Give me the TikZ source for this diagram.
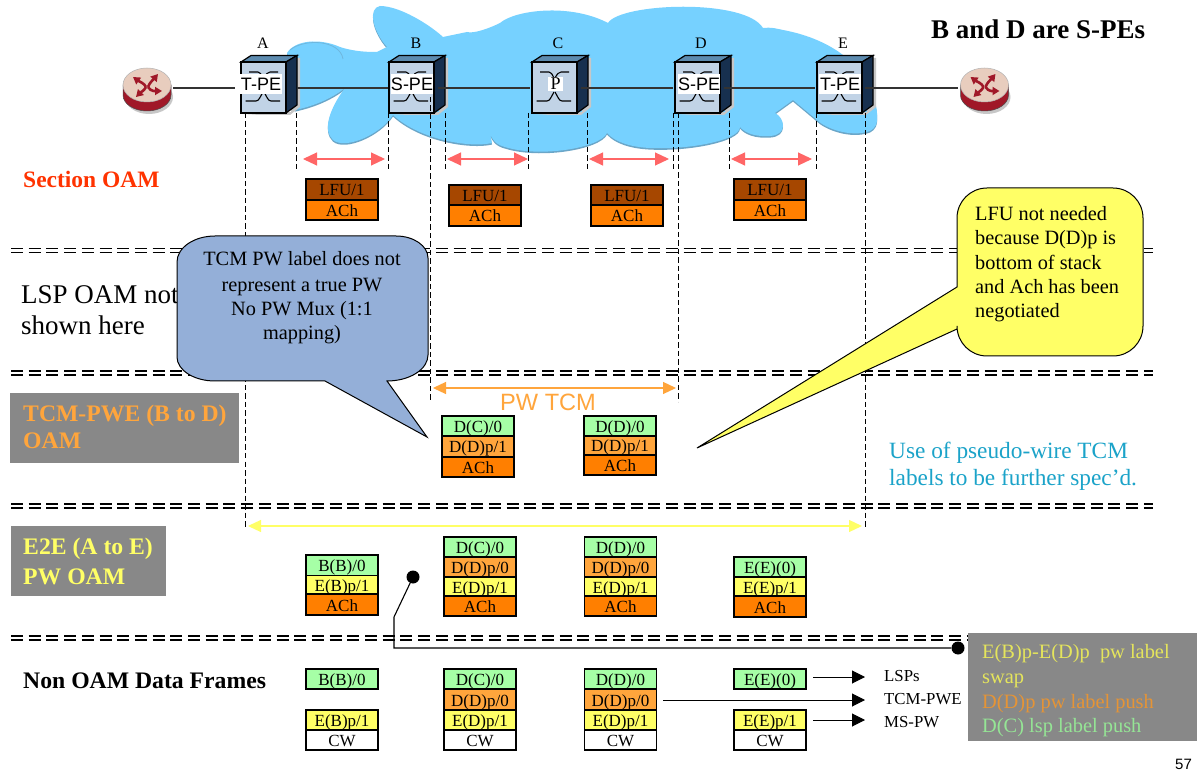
\documentclass[tikz,border=0pt]{standalone}
\usepackage{fontspec}
\setmainfont{Liberation Serif}
\setsansfont{Liberation Sans}
\usetikzlibrary{arrows.meta,calc}
\definecolor{cloudc}{HTML}{76D1FF}
\definecolor{cloudsh}{HTML}{6BA6C8}
\definecolor{gr}{HTML}{A6FFA6}
\definecolor{or}{HTML}{FFA53C}
\definecolor{ye}{HTML}{FFFF66}
\definecolor{ach}{HTML}{FF7F00}
\definecolor{lfu}{HTML}{A64700}
\definecolor{grayb}{HTML}{888888}
\definecolor{blu}{HTML}{94AFD8}
\definecolor{teal2}{HTML}{1BA3C9}
\definecolor{redt}{HTML}{FF3300}
\definecolor{redar}{HTML}{FF6666}
\definecolor{swfront}{HTML}{C1D3E6}
\definecolor{swtop}{HTML}{5D8BAF}
\definecolor{swside}{HTML}{17304F}
\definecolor{rtop}{HTML}{E8CDBE}
\definecolor{rbase}{HTML}{A01828}
\newcommand{\fs}[1]{\fontsize{#1}{#1}\selectfont}
\tikzset{
 stackcell/.style={draw=black,line width=1.1,minimum width=72,inner sep=0,outer sep=0,text height=14,text depth=1,font=\fs{17},text=black},
 guide/.style={draw=black,line width=0.9,dash pattern=on 5.5 off 3},
 sep/.style={draw=black,line width=1.3,dash pattern=on 12 off 5.7},
 blackarrow/.style={draw=black,line width=1,-{Triangle[length=13,width=13]}},
 wire/.style={draw=black!80,line width=1.1},
 label/.style={inner sep=0,anchor=base west},
 pin/.style={draw=black,line width=1.1},
}
% name, x0, ytop, ybottom, fill, text
\newcommand{\cellbox}[6]{\node[stackcell,fill=#5,minimum height={(#4-#3)*1pt}] (#1) at (#2+36,{(#3+#4)/2}) {#6};}
% name, x0, label, font
\newcommand{\switchunit}[4]{%
 \fill[black!22] (#2+3,115) -- (#2+49,115) -- (#2+59,107) -- (#2+59,58) -- (#2+50,58) -- (#2+50,112) -- cycle;
 \filldraw[draw=black,line width=1.2,fill=swtop] (#2,62) -- (#2+10,55.5) -- (#2+56,55.5) -- (#2+45,62) -- cycle;
 \filldraw[draw=black,line width=1.2,fill=swside] (#2+45,62) -- (#2+56,55.5) -- (#2+56,105) -- (#2+45,113) -- cycle;
 \node[draw=black,line width=1.3,fill=swfront,minimum width=45,minimum height=51,inner sep=0,outer sep=0,anchor=north west] (#1) at (#2,62) {};
 \draw[black,line width=1.1] (#2+4.5,101) -- (#2+15,101) .. controls (#2+18,101) and (#2+19,97) .. (#2+22,92);
 \draw[black,line width=1.1] (#2+39,101) -- (#2+30,101) .. controls (#2+27,101) and (#2+26,97) .. (#2+23,92);
 \draw[black,line width=1.1] (#2+8,72) -- (#2+17,72) .. controls (#2+19,72) and (#2+20,74) .. (#2+22,78);
 \draw[black,line width=1.1] (#2+37,72) -- (#2+29,72) .. controls (#2+27,72) and (#2+25,74) .. (#2+23,78);
 #4
}
\newcommand{\routerunit}[2]{%
 \fill[black!22] (#2+2,97) ellipse [x radius=24,y radius=17];
 \filldraw[draw=black!70,line width=.5,fill=rbase] (#2-24,85) -- (#2-24,95) arc[start angle=180,end angle=0,x radius=24,y radius=16] -- (#2+24,85) -- cycle;
 \filldraw[draw=black!30,line width=.5,fill=rtop] (#2,85) ellipse [x radius=24,y radius=17];
 \node[minimum width=48,minimum height=44,inner sep=0,outer sep=0] (#1) at (#2,90) {};
 \begin{scope}[rbase,line width=2.6,-{Triangle[length=7,width=8]}]
  \draw (#2-1,87) .. controls (#2-3,83) and (#2-7,82) .. (#2-14,77);
  \draw (#2+1,87) .. controls (#2+3,82) and (#2+6,80) .. (#2+11,74);
  \draw (#2-1,87) .. controls (#2-3,91) and (#2-6,92) .. (#2-11,97);
  \draw (#2+1,87) .. controls (#2+4,92) and (#2+9,91) .. (#2+15,91);
 \end{scope}
}
\begin{document}
\begin{tikzpicture}[x=1pt,y=-1pt]
\useasboundingbox (0,0) rectangle (1197,775);
\fill[white] (0,0) rectangle (1197,775);
% cloud
\path[fill=cloudc,preaction={fill=cloudsh,transform canvas={yshift=-1.6pt}}]
 (287,53) .. controls (295,40) and (320,38) .. (340,47) .. controls (355,52) and (370,52) .. (377,52)
 -- (387,47) .. controls (372,30) and (368,8) .. (380,6) .. controls (400,6) and (430,25) .. (443,37)
 -- (467,32) .. controls (474,34) and (490,28) .. (500,23) .. controls (515,10) and (570,3) .. (608,23)
 .. controls (620,3) and (745,-2) .. (763,28) .. controls (772,27) and (778,29) .. (783,30)
 .. controls (810,35) and (830,45) .. (843,55) .. controls (860,65) and (875,90) .. (877,113)
 .. controls (878,125) and (875,128) .. (870,131) .. controls (850,138) and (825,128) .. (817,120)
 -- (793,100) -- (775,113) .. controls (785,118) and (788,135) .. (770,136) .. controls (755,137) and (745,133) .. (740,127)
 .. controls (740,140) and (690,150) .. (650,148) .. controls (630,147) and (615,142) .. (607,133)
 .. controls (600,148) and (540,158) .. (505,147) .. controls (497,145) and (491,140) .. (490,132)
 .. controls (491,137) and (491,140) .. (492,143) .. controls (470,148) and (420,140) .. (393,115)
 .. controls (380,135) and (345,150) .. (333,140) .. controls (322,130) and (330,108) .. (345,88)
 .. controls (330,100) and (310,107) .. (295,110) -- (290,60) -- cycle;
\draw[cloudsh!60!cloudc,line width=.8] (290,50) .. controls (305,38) and (340,40) .. (343,59);
% routers and switches
\routerunit{r1}{147}
\routerunit{r2}{984.5}
\node[font=\fs{16},inner sep=0] (tA) at (263,43) {A};
\node[font=\fs{16},inner sep=0] (tB) at (416,43) {B};
\node[font=\fs{16},inner sep=0] (tC) at (558,43) {C};
\node[font=\fs{16},inner sep=0] (tD) at (701,43) {D};
\node[font=\fs{16},inner sep=0] (tE) at (843,43) {E};
\switchunit{A}{241}{T-PE}{\node[fill=white,inner sep=0,minimum width=42,minimum height=20,font=\sffamily\fs{18}] (lA) at (261,84) {T-PE};}
\switchunit{B}{389}{S-PE}{\node[fill=white,inner sep=0,minimum width=42,minimum height=20,font=\sffamily\fs{18}] (lB) at (412,84) {S-PE};}
\switchunit{C}{532}{P}{\node[fill=white,inner sep=0,minimum width=15,minimum height=14,font=\fs{18}] (lC) at (555.5,84) {P};}
\switchunit{D}{675}{S-PE}{\node[fill=white,inner sep=0,minimum width=42,minimum height=20,font=\sffamily\fs{18}] (lD) at (699,84) {S-PE};}
\switchunit{E}{817}{T-PE}{\node[fill=white,inner sep=0,minimum width=42,minimum height=20,font=\sffamily\fs{18}] (lE) at (840,84) {T-PE};}
% connectors between devices
\coordinate (r1o) at (173,88); \coordinate (Ain) at (235,88);
\coordinate (Ao) at (297,88); \coordinate (Bi) at (388,88);
\coordinate (Bo) at (438,88); \coordinate (Ci) at (530,88);
\coordinate (Co) at (581,88); \coordinate (Di) at (673,88);
\coordinate (Do) at (724,88); \coordinate (Ei) at (815,88);
\coordinate (Eo) at (865,88); \coordinate (r2i) at (958,88);
\draw[wire] (r1o) -- (Ain);
\draw[wire] (Ao) -- (Bi);
\draw[wire] (Bo) -- (Ci);
\draw[wire] (Co) -- (Di);
\draw[wire] (Do) -- (Ei);
\draw[wire] (Eo) -- (r2i);
% vertical guides
\foreach \x/\a/\b in {245/113/527,296/113/170,388/113/170,430/97/402,445/113/170,528/113/170,587/113/170,673/113/170,678/113/402,729/113/170,816/113/170,865/113/527}{
 \coordinate (v\x a) at (\x,\a); \coordinate (v\x b) at (\x,\b);
 \draw[guide] (v\x a) -- (v\x b);
}
% separators
\foreach \n/\y in {a/248.5,b/252.7,c/371,d/375,e/504,f/508,g/636,h/640}{
 \coordinate (s\n l) at (11,\y); \coordinate (s\n r) at (1153,\y);
 \draw[sep] (s\n l) -- (s\n r);
}
% section OAM
\node[label,font=\bfseries\fs{23.5},text=redt] (t1) at (23,188) {Section OAM};
\foreach \n/\a/\b in {p/303/385,q/447/528,r/589/669,s/731/812}{
 \coordinate (\n l) at (\a,159); \coordinate (\n r) at (\b,159);
 \draw[redar,line width=1.1,{Triangle[length=14,width=13]}-{Triangle[length=14,width=13]}] (\n l) -- (\n r);
}
\cellbox{s1a}{306}{179}{200}{lfu}{LFU/1}\cellbox{s1b}{306}{200}{220}{ach}{ACh}
\cellbox{s2a}{449}{185}{205}{lfu}{LFU/1}\cellbox{s2b}{449}{205}{226}{ach}{ACh}
\cellbox{s3a}{591}{185}{205}{lfu}{LFU/1}\cellbox{s3b}{591}{205}{226}{ach}{ACh}
\cellbox{s4a}{734}{179}{200}{lfu}{LFU/1}\cellbox{s4b}{734}{200}{220}{ach}{ACh}
% LSP
\node[label,font=\fs{27},align=left] (t2) at (21,304) {LSP OAM not};
\node[label,font=\fs{27},align=left] (t2b) at (21,335) {shown here};
% TCM
\node[fill=grayb,minimum width=229,minimum height=70,inner sep=0,anchor=north west] (g1) at (10,393) {};
\node[label,font=\bfseries\fs{23.7},text=or] (t3) at (23,422) {TCM-PWE (B to D)};
\node[label,font=\bfseries\fs{23.7},text=or] (t3b) at (23,449) {OAM};
\coordinate (tcml) at (433,388); \coordinate (tcmr) at (676,388);
\draw[or,line width=1.2,{Triangle[length=13,width=12]}-{Triangle[length=13,width=12]}] (tcml) -- (tcmr);
\node[label,font=\sffamily\fs{23.6},text=or] (t4) at (500,410) {PW TCM};
\cellbox{t1a}{442}{416}{436}{gr}{D(C)/0}\cellbox{t1b}{442}{436}{457}{or}{D(D)p/1}\cellbox{t1c}{442}{457}{477}{ach}{ACh}
\cellbox{t2a}{584}{416}{436}{gr}{D(D)/0}\cellbox{t2b}{584}{436}{455}{or}{D(D)p/1}\cellbox{t2c}{584}{455}{475}{ach}{ACh}
\node[label,font=\fs{23.3},text=teal2] (t5) at (889,458) {Use of pseudo-wire TCM};
\node[label,font=\fs{23.3},text=teal2] (t5b) at (889,485) {labels to be further spec’d.};
% E2E
\node[fill=grayb,minimum width=155,minimum height=70,inner sep=0,anchor=north west] (g2) at (11,526) {};
\node[label,font=\bfseries\fs{23.7},text=ye] (t6) at (23,554) {E2E (A to E)};
\node[label,font=\bfseries\fs{23.7},text=ye] (t6b) at (23,584) {PW OAM};
\coordinate (e2el) at (248,526); \coordinate (e2er) at (862,526);
\draw[ye,line width=1.2,{Triangle[length=13,width=12]}-{Triangle[length=13,width=12]}] (e2el) -- (e2er);
\cellbox{e1a}{306}{555}{575.5}{gr}{B(B)/0}\cellbox{e1b}{306}{575.5}{594}{ye}{E(B)p/1}\cellbox{e1c}{306}{594}{615}{ach}{ACh}
\cellbox{e2a}{444}{537}{557}{gr}{D(C)/0}\cellbox{e2b}{444}{557}{577}{or}{D(D)p/0}\cellbox{e2c}{444}{577}{596}{ye}{E(D)p/1}\cellbox{e2d}{444}{596}{616}{ach}{ACh}
\cellbox{e3a}{584.5}{537}{557}{gr}{D(D)/0}\cellbox{e3b}{584.5}{557}{577}{or}{D(D)p/0}\cellbox{e3c}{584.5}{577}{596}{ye}{E(D)p/1}\cellbox{e3d}{584.5}{596}{616}{ach}{ACh}
\cellbox{e4a}{734}{557}{577}{gr}{E(E)(0)}\cellbox{e4b}{734}{577}{596}{ye}{E(E)p/1}\cellbox{e4c}{734}{596}{617}{ach}{ACh}
% Data
\node[label,font=\bfseries\fs{23.7},] (t7) at (23,688) {Non OAM Data Frames};
\cellbox{d1a}{306}{669}{689}{gr}{B(B)/0}\cellbox{d1b}{306}{710}{730}{ye}{E(B)p/1}\cellbox{d1c}{306}{730}{750}{white}{CW}
\cellbox{d2a}{444}{669}{689}{gr}{D(C)/0}\cellbox{d2b}{444}{689}{710}{or}{D(D)p/0}\cellbox{d2c}{444}{710}{730}{ye}{E(D)p/1}\cellbox{d2d}{444}{730}{750}{white}{CW}
\cellbox{d3a}{584.5}{669}{689}{gr}{D(D)/0}\cellbox{d3b}{584.5}{689}{710}{or}{D(D)p/0}\cellbox{d3c}{584.5}{710}{730}{ye}{E(D)p/1}\cellbox{d3d}{584.5}{730}{750}{white}{CW}
\cellbox{d4a}{734}{669}{689}{gr}{E(E)(0)}\cellbox{d4b}{734}{710}{730}{ye}{E(E)p/1}\cellbox{d4c}{734}{730}{750}{white}{CW}
\node[label,font=\fs{16.8}] (l1) at (884,681) {LSPs};
\node[label,font=\fs{16.8}] (l2) at (884,704) {TCM-PWE};
\node[label,font=\fs{16.8}] (l3) at (884,727) {MS-PW};
\coordinate (a1s) at (813,677); \coordinate (a2s) at (663,700); \coordinate (a3s) at (813,720);
\coordinate (a1e) at (865,677); \coordinate (a2e) at (865,700); \coordinate (a3e) at (865,720);
\draw[blackarrow] (a1s) -- (a1e);
\draw[blackarrow] (a2s) -- (a2e);
\draw[blackarrow] (a3s) -- (a3e);
% gray note
\node[fill=grayb,minimum width=229,minimum height=108,inner sep=0,anchor=north west] (g3) at (968,633) {};
\node[label,font=\fs{20.4},text=ye!90!black] (n1) at (982,658) {E(B)p-E(D)p\ \ pw label};
\node[label,font=\fs{20.4},text=ye!90!black] (n1b) at (982,683) {swap};
\node[label,font=\fs{20.4},text=or!90!black] (n2) at (982,708) {D(D)p pw label push};
\node[label,font=\fs{20.4},text=gr!90!black] (n3) at (982,732) {D(C) lsp label push};
% pointer line
\node[circle,fill=black,minimum size=13,inner sep=0] (dot1) at (413,577) {};
\node[circle,fill=black,minimum size=13,inner sep=0] (dot2) at (958,648) {};
\coordinate (pk1) at (394,617); \coordinate (pk2) at (394,648);
\draw[pin] (dot1) -- (pk1) -- (pk2) -- (dot2);
% callouts
\filldraw[draw=black,line width=1,fill=blu] (215,236) -- (396,236) arc[start angle=-90,end angle=0,x radius=32,y radius=22] -- (428,355) arc[start angle=0,end angle=90,x radius=41,y radius=26] -- (387,381) -- (427,437) -- (325,381) -- (215,381) arc[start angle=90,end angle=180,x radius=38,y radius=24] -- (177,262) arc[start angle=180,end angle=270,x radius=38,y radius=26] -- cycle;
\node[font=\fs{20.3},align=center,inner sep=0,anchor=base] (c1a) at (302,266) {TCM PW label does not};
\node[font=\fs{20.3},align=center,inner sep=0,anchor=base] (c1b) at (302,292) {represent a true PW};
\node[font=\fs{20.3},align=center,inner sep=0,anchor=base] (c1c) at (302,316) {No PW Mux (1:1};
\node[font=\fs{20.3},align=center,inner sep=0,anchor=base] (c1d) at (302,340) {mapping)};
\filldraw[draw=black,line width=1,fill=ye] (987,188) -- (1113,188) arc[start angle=-90,end angle=0,radius=30] -- (1143,326) arc[start angle=0,end angle=90,radius=30] -- (987,356) arc[start angle=90,end angle=180,radius=30] -- (957,329) -- (697,448) -- (957,287) -- (957,218) arc[start angle=180,end angle=270,radius=30] -- cycle;
\node[label,font=\fs{20.3}] (c2a) at (975,221) {LFU not needed};
\node[label,font=\fs{20.3}] (c2b) at (975,245) {because D(D)p is};
\node[label,font=\fs{20.3}] (c2c) at (975,270) {bottom of stack};
\node[label,font=\fs{20.3}] (c2d) at (975,294) {and Ach has been};
\node[label,font=\fs{20.3}] (c2e) at (975,318) {negotiated};
% title
\node[label,font=\bfseries\fs{27},] (title) at (931,39) {B and D are S-PEs};
\node[label,font=\sffamily\fs{15}] (pg) at (1175,769) {57};
\end{tikzpicture}
\end{document}
